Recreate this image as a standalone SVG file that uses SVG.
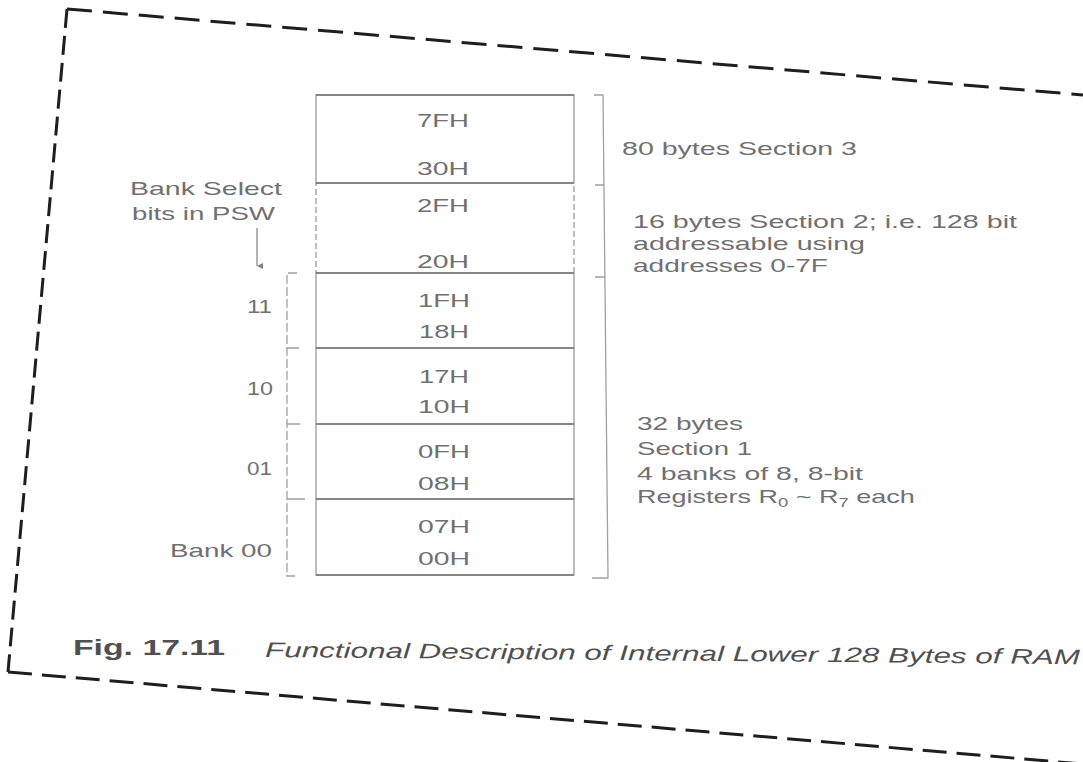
<svg xmlns="http://www.w3.org/2000/svg" width="1083" height="762" viewBox="0 0 1083 762">
<defs>
<style>
.frame{fill:none;stroke:#1e1e1e;stroke-width:3}
.cell{fill:none;stroke:#9a9a9a;stroke-width:1.3}
.div{stroke:#858585;stroke-width:2}
.t{font-family:"Liberation Sans",Arial,sans-serif;font-size:19px;fill:#707070}
.c{text-anchor:middle}
.br{fill:none;stroke:#a0a0a0;stroke-width:1.3}
.cap{font-family:"Liberation Sans",Arial,sans-serif;fill:#505050}
</style>
<marker id="ah" markerWidth="8" markerHeight="8" refX="4" refY="6" orient="auto" markerUnits="userSpaceOnUse">
<path d="M1,0 L4,6 L7,0 Z" fill="#808080"/>
</marker>
</defs>
<rect width="1083" height="762" fill="#ffffff"/>

<g id="frame">
<path class="frame" d="M67,9 L1083,95" stroke-dasharray="25 11"/>
<path class="frame" d="M67,9 L8,672" stroke-width="2.2" stroke-dasharray="19 8"/>
<path class="frame" d="M8,672 L1083,764" stroke-dasharray="24 10"/>
</g>

<g id="memory">
<g id="section3">
<rect class="cell" x="316" y="95" width="258" height="88"/>
<text class="t c" x="443" y="127" textLength="52" lengthAdjust="spacingAndGlyphs">7FH</text>
<text class="t c" x="443" y="175" textLength="52" lengthAdjust="spacingAndGlyphs">30H</text>
</g>
<g id="section2">
<rect class="cell" x="316" y="183" width="258" height="90" stroke-dasharray="6 3"/>
<text class="t c" x="443" y="212" textLength="52" lengthAdjust="spacingAndGlyphs">2FH</text>
<text class="t c" x="443" y="268" textLength="52" lengthAdjust="spacingAndGlyphs">20H</text>
</g>
<g id="bank3">
<rect class="cell" x="316" y="273" width="258" height="75"/>
<text class="t c" x="444" y="307" textLength="52" lengthAdjust="spacingAndGlyphs">1FH</text>
<text class="t c" x="444" y="338" textLength="50" lengthAdjust="spacingAndGlyphs">18H</text>
</g>
<g id="bank2">
<rect class="cell" x="316" y="348" width="258" height="76"/>
<text class="t c" x="444" y="383" textLength="50" lengthAdjust="spacingAndGlyphs">17H</text>
<text class="t c" x="444" y="413" textLength="52" lengthAdjust="spacingAndGlyphs">10H</text>
</g>
<g id="bank1">
<rect class="cell" x="316" y="424" width="258" height="75"/>
<text class="t c" x="444" y="458" textLength="52" lengthAdjust="spacingAndGlyphs">0FH</text>
<text class="t c" x="444" y="490" textLength="52" lengthAdjust="spacingAndGlyphs">08H</text>
</g>
<g id="bank0">
<rect class="cell" x="316" y="499" width="258" height="76"/>
<text class="t c" x="444" y="533" textLength="52" lengthAdjust="spacingAndGlyphs">07H</text>
<text class="t c" x="444" y="565" textLength="52" lengthAdjust="spacingAndGlyphs">00H</text>
</g>
<g id="dividers">
<line class="div" x1="316" y1="95" x2="574" y2="95"/>
<line class="div" x1="316" y1="183" x2="574" y2="183"/>
<line class="div" x1="316" y1="273" x2="574" y2="273"/>
<line class="div" x1="316" y1="348" x2="574" y2="348"/>
<line class="div" x1="316" y1="424" x2="574" y2="424"/>
<line class="div" x1="316" y1="499" x2="574" y2="499"/>
<line class="div" x1="316" y1="575" x2="574" y2="575"/>
</g>
</g>

<g id="bank-labels">
<text class="t" x="130" y="195" textLength="152" lengthAdjust="spacingAndGlyphs">Bank Select</text>
<text class="t" x="132" y="220" textLength="143" lengthAdjust="spacingAndGlyphs">bits in PSW</text>
<text class="t" x="247" y="313" textLength="25" lengthAdjust="spacingAndGlyphs">11</text>
<text class="t" x="247" y="395" textLength="26" lengthAdjust="spacingAndGlyphs">10</text>
<text class="t" x="247" y="475" textLength="25" lengthAdjust="spacingAndGlyphs">01</text>
<text class="t" x="170" y="557" textLength="102" lengthAdjust="spacingAndGlyphs">Bank 00</text>
</g>

<g id="section-labels">
<text class="t" x="622" y="155" textLength="235" lengthAdjust="spacingAndGlyphs">80 bytes Section 3</text>
<text class="t" x="633" y="228" textLength="384" lengthAdjust="spacingAndGlyphs">16 bytes Section 2; i.e. 128 bit</text>
<text class="t" x="633" y="250" textLength="232" lengthAdjust="spacingAndGlyphs">addressable using</text>
<text class="t" x="633" y="272" textLength="195" lengthAdjust="spacingAndGlyphs">addresses 0-7F</text>
<text class="t" x="637" y="430" textLength="106" lengthAdjust="spacingAndGlyphs">32 bytes</text>
<text class="t" x="637" y="455" textLength="115" lengthAdjust="spacingAndGlyphs">Section 1</text>
<text class="t" x="637" y="480" textLength="226" lengthAdjust="spacingAndGlyphs">4 banks of 8, 8-bit</text>
<g transform="translate(637,503) scale(1.42,1)">
<text class="t" x="0" y="0">Registers R<tspan font-size="13" dy="4">0</tspan><tspan dy="-4"> ~ R</tspan><tspan font-size="13" dy="4">7</tspan><tspan dy="-4"> each</tspan></text>
</g>
</g>

<g id="connectors">
<line x1="257" y1="228" x2="257" y2="266" stroke="#8a8a8a" stroke-width="1.3" marker-end="url(#ah)"/>
<path class="br" d="M297,273 L287,273 L287,576 L297,576" stroke-dasharray="9 3"/>
<path class="br" d="M287,348 L299,348 M287,424 L300,424 M287,499 L305,499"/>
<path class="br" d="M594,95 L603,95 L608,578 L592,578" />
<path class="br" d="M595,185 L604,185 M595,277 L605,277"/>
</g>

<g id="caption">
<text class="cap" x="73" y="655" font-size="22" font-weight="bold" textLength="152" lengthAdjust="spacingAndGlyphs">Fig. 17.11</text>
<text class="cap" x="265" y="657" font-size="21" font-style="italic" textLength="815" lengthAdjust="spacingAndGlyphs" transform="rotate(0.5 265 657)">Functional Description of Internal Lower 128 Bytes of RAM</text>
</g>
</svg>
